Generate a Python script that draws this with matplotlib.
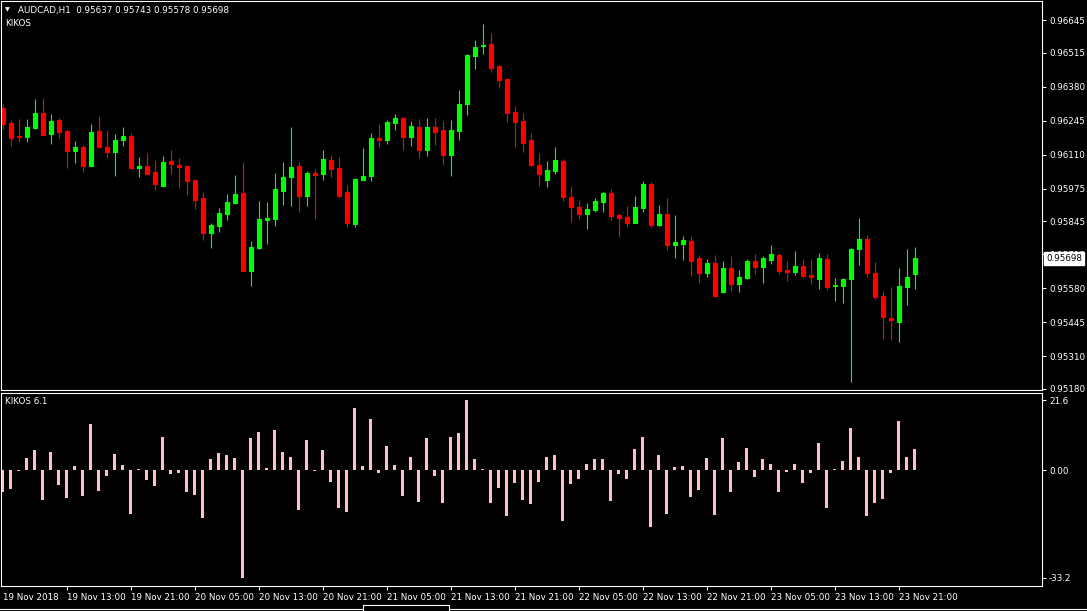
import matplotlib
matplotlib.use('Agg')
import matplotlib.pyplot as plt
from matplotlib.lines import Line2D
import numpy as np

# ---------------- data ----------------
opens = [0.96295, 0.96236, 0.96184, 0.96181, 0.96217, 0.96276, 0.96193, 0.96248, 0.96204, 0.96126,
         0.96140, 0.96066, 0.96204, 0.96140, 0.96122, 0.96169, 0.96184, 0.96058, 0.96065, 0.96041,
         0.95987, 0.96085, 0.96069, 0.96065, 0.96009, 0.95938, 0.95800, 0.95828, 0.95875, 0.95918,
         0.95958, 0.95648, 0.95739, 0.95852, 0.95855, 0.95967, 0.96022, 0.96065, 0.95947, 0.96037,
         0.96034, 0.96089, 0.96057, 0.95962, 0.95836, 0.96010, 0.96026, 0.96176, 0.96169, 0.96237,
         0.96256, 0.96181, 0.96220, 0.96130, 0.96220, 0.96208, 0.96110, 0.96205, 0.96312, 0.96503,
         0.96542, 0.96550, 0.96463, 0.96411, 0.96280, 0.96244, 0.96168, 0.96069, 0.96010, 0.96046,
         0.96085, 0.95943, 0.95903, 0.95874, 0.95890, 0.95922, 0.95958, 0.95870, 0.95862, 0.95839,
         0.95898, 0.95994, 0.95831, 0.95874, 0.95751, 0.95755, 0.95767, 0.95699, 0.95640, 0.95680,
         0.95564, 0.95660, 0.95596, 0.95620, 0.95687, 0.95665, 0.95691, 0.95711, 0.95652, 0.95645,
         0.95668, 0.95632, 0.95616, 0.95695, 0.95588, 0.95588, 0.95616, 0.95735, 0.95775, 0.95640,
         0.95548, 0.95461, 0.95445, 0.95584, 0.95637]
highs = [0.96311, 0.96248, 0.96252, 0.96252, 0.96331, 0.96335, 0.96272, 0.96256, 0.96208, 0.96164,
         0.96148, 0.96232, 0.96264, 0.96208, 0.96192, 0.96220, 0.96196, 0.96101, 0.96117, 0.96090,
         0.96106, 0.96129, 0.96097, 0.96066, 0.96010, 0.95962, 0.95839, 0.95898, 0.95954, 0.96030,
         0.96081, 0.95767, 0.95926, 0.95922, 0.96038, 0.96081, 0.96220, 0.96081, 0.96045, 0.96053,
         0.96129, 0.96109, 0.96101, 0.95990, 0.96017, 0.96137, 0.96196, 0.96232, 0.96248, 0.96272,
         0.96260, 0.96244, 0.96252, 0.96256, 0.96256, 0.96244, 0.96248, 0.96367, 0.96510, 0.96566,
         0.96629, 0.96593, 0.96467, 0.96415, 0.96303, 0.96276, 0.96196, 0.96117, 0.96085, 0.96140,
         0.96093, 0.95985, 0.95930, 0.95918, 0.95938, 0.95962, 0.95974, 0.95878, 0.95906, 0.95946,
         0.96005, 0.96001, 0.95910, 0.95938, 0.95870, 0.95787, 0.95787, 0.95711, 0.95695, 0.95711,
         0.95687, 0.95707, 0.95652, 0.95695, 0.95715, 0.95707, 0.95751, 0.95719, 0.95687, 0.95727,
         0.95695, 0.95695, 0.95719, 0.95715, 0.95620, 0.95620, 0.95739, 0.95858, 0.95791, 0.95684,
         0.95568, 0.95584, 0.95660, 0.95735, 0.95743]
lows = [0.96212, 0.96146, 0.96162, 0.96162, 0.96212, 0.96187, 0.96154, 0.96177, 0.96058, 0.96078,
        0.96042, 0.96064, 0.96137, 0.96098, 0.96025, 0.96146, 0.96054, 0.96022, 0.96032, 0.95970,
        0.95985, 0.96034, 0.95977, 0.95951, 0.95893, 0.95772, 0.95740, 0.95804, 0.95851, 0.95915,
        0.95647, 0.95589, 0.95735, 0.95756, 0.95828, 0.95911, 0.95907, 0.95884, 0.95907, 0.95855,
        0.96010, 0.96022, 0.95945, 0.95824, 0.95824, 0.96008, 0.96006, 0.96141, 0.96154, 0.96209,
        0.96130, 0.96146, 0.96098, 0.96106, 0.96150, 0.96070, 0.96025, 0.96169, 0.96269, 0.96452,
        0.96511, 0.96440, 0.96376, 0.96241, 0.96141, 0.96122, 0.96066, 0.95987, 0.95981, 0.96034,
        0.95927, 0.95844, 0.95855, 0.95816, 0.95882, 0.95882, 0.95850, 0.95783, 0.95823, 0.95837,
        0.95882, 0.95823, 0.95827, 0.95731, 0.95699, 0.95691, 0.95628, 0.95600, 0.95624, 0.95546,
        0.95562, 0.95568, 0.95564, 0.95616, 0.95636, 0.95600, 0.95676, 0.95637, 0.95608, 0.95632,
        0.95626, 0.95596, 0.95576, 0.95572, 0.95528, 0.95520, 0.95207, 0.95672, 0.95624, 0.95536,
        0.95378, 0.95374, 0.95366, 0.95513, 0.95578]
closes = [0.96233, 0.96177, 0.96180, 0.96220, 0.96276, 0.96189, 0.96244, 0.96201, 0.96126, 0.96140,
          0.96066, 0.96200, 0.96141, 0.96122, 0.96168, 0.96184, 0.96058, 0.96065, 0.96034, 0.95995,
          0.96081, 0.96074, 0.96062, 0.96006, 0.95931, 0.95800, 0.95831, 0.95878, 0.95922, 0.95954,
          0.95648, 0.95743, 0.95854, 0.95858, 0.95974, 0.96021, 0.96060, 0.95947, 0.96037, 0.96030,
          0.96093, 0.96054, 0.95947, 0.95840, 0.96013, 0.96025, 0.96176, 0.96169, 0.96240, 0.96256,
          0.96181, 0.96224, 0.96130, 0.96220, 0.96201, 0.96110, 0.96208, 0.96311, 0.96506, 0.96538,
          0.96546, 0.96455, 0.96408, 0.96277, 0.96241, 0.96158, 0.96070, 0.96034, 0.96048, 0.96089,
          0.95943, 0.95903, 0.95874, 0.95894, 0.95926, 0.95958, 0.95866, 0.95858, 0.95839, 0.95902,
          0.95994, 0.95831, 0.95874, 0.95751, 0.95763, 0.95771, 0.95688, 0.95640, 0.95680, 0.95548,
          0.95660, 0.95596, 0.95624, 0.95687, 0.95665, 0.95699, 0.95715, 0.95649, 0.95645, 0.95668,
          0.95628, 0.95625, 0.95699, 0.95584, 0.95592, 0.95615, 0.95735, 0.95775, 0.95640, 0.95544,
          0.95465, 0.95453, 0.95588, 0.95624, 0.95698]
kikos = [-6.7, -5.9, -0.3, 3.8, 6.3, -9.3, 5.6, -4.6, -8.7, 1.2,
         -8.0, 14.2, -6.5, -1.9, 4.9, 1.5, -13.6, 0.3, -3.1, -4.9,
         10.2, -1.2, -0.9, -6.8, -7.7, -14.8, 3.4, 5.3, 4.6, 3.8,
         -33.2, 9.9, 11.8, 0.6, 12.4, 5.6, 4.0, -12.4, 9.3, -0.3,
         6.2, -3.7, -11.8, -13.0, 19.2, 1.2, 15.8, -0.9, 7.4, 1.5,
         -8.0, 4.0, -9.9, 9.9, -1.9, -10.2, 10.2, 11.4, 21.6, 3.4,
         0.3, -10.2, -5.6, -14.2, -4.0, -9.3, -10.5, -3.7, 4.0, 4.6,
         -15.8, -4.3, -2.8, 1.9, 3.4, 3.4, -9.6, -1.2, -2.8, 6.5,
         10.2, -17.6, 4.6, -13.6, 0.9, 1.2, -8.4, -6.2, 3.7, -13.9,
         9.9, -6.8, 2.5, 6.8, -2.2, 3.4, 1.9, -6.8, -0.6, 1.9,
         -4.0, -0.9, 8.4, -11.8, 0.3, 2.8, 13.0, 4.0, -14.2, -10.2,
         -9.0, -0.9, 15.2, 4.0, 6.5]
time_labels = ["19 Nov 2018", "19 Nov 13:00", "19 Nov 21:00", "20 Nov 05:00", "20 Nov 13:00",
               "20 Nov 21:00", "21 Nov 05:00", "21 Nov 13:00", "21 Nov 21:00", "22 Nov 05:00",
               "22 Nov 13:00", "22 Nov 21:00", "23 Nov 05:00", "23 Nov 13:00", "23 Nov 21:00"]
time_label_bars = [0, 8, 16, 24, 32, 40, 48, 56, 64, 72, 80, 88, 96, 104, 112]
price_ticks = [0.96645, 0.96515, 0.96380, 0.96245, 0.96110, 0.95975, 0.95845, 0.95715,
               0.95580, 0.95445, 0.95310, 0.95180]
kikos_ticks = [21.6, 0.0, -33.2]
kikos_tick_labels = ["21.6", "0.00", "-33.2"]
symbol = "AUDCAD,H1"
last_price = 0.95698

# ---------------- figure ----------------
W, H = 1087, 611
fig = plt.figure(figsize=(W / 100, H / 100), dpi=100, facecolor='black')
FS = 6.3
WHITE = 'white'


def box(x0, y0, x1, y1):
    return [x0 / W, 1 - y1 / H, (x1 - x0) / W, (y1 - y0) / H]


ax = fig.add_axes(box(1, 1, 1042, 390))
ax2 = fig.add_axes(box(1, 393, 1042, 586))

o = np.array(opens)
h = np.array(highs)
l = np.array(lows)
c = np.array(closes)
x = np.arange(len(o))
cols = np.where(c >= o, '#00FF00', '#FF0000')

for a in (ax, ax2):
    a.set_facecolor('black')
    for s in a.spines.values():
        s.set_color(WHITE)
        s.set_linewidth(0.8)
    a.set_xlim(-0.2125, 129.91)

# candles
ax.vlines(x, l, h, colors=cols, linewidth=0.8)
ax.bar(x, np.abs(c - o), bottom=np.minimum(o, c), width=0.5, color=cols,
       edgecolor=cols, linewidth=0.8)
ax.set_ylim(0.95175, 0.967205)
ax.yaxis.tick_right()
ax.set_yticks(price_ticks)
ax.set_yticklabels([f"{p:.5f}" for p in price_ticks])
ax.tick_params(axis='y', colors=WHITE, labelsize=FS, length=3, width=0.8, pad=2)
ax.set_xticks([])

ax.annotate(f"{last_price:.5f}", xy=(1, last_price), xycoords=('axes fraction', 'data'),
            xytext=(3.0, 0), textcoords='offset points', ha='left', va='center',
            color='black', fontsize=FS, zorder=10, annotation_clip=False,
            bbox=dict(boxstyle='square,pad=0.25', fc='white', ec='white'))

# indicator
ax2.bar(x, kikos, width=0.375, color='#FFC0CB', linewidth=0)
ax2.set_ylim(-35.8, 23.8)
ax2.yaxis.tick_right()
ax2.set_yticks(kikos_ticks)
ax2.set_yticklabels(kikos_tick_labels)
ax2.tick_params(axis='y', colors=WHITE, labelsize=FS, length=3, width=0.8, pad=2)
ax2.set_xticks(time_label_bars)
ax2.set_xticklabels(time_labels, ha='left')
ax2.tick_params(axis='x', colors=WHITE, labelsize=FS, length=3, width=0.8, pad=2)
ax2.xaxis.get_major_ticks()[0].tick1line.set_visible(False)

# header texts
fig.text(5 / W, 1 - 10 / H, "\u25BC", color=WHITE, fontsize=4.5, va='center', ha='left')
fig.text(18 / W, 1 - 10 / H, f"{symbol}  {opens[-1]:.5f} {highs[-1]:.5f} {lows[-1]:.5f} {closes[-1]:.5f}",
         color=WHITE, fontsize=FS, va='center', ha='left')
fig.text(5 / W, 1 - 23 / H, "KIKOS", color=WHITE, fontsize=FS, va='center', ha='left')
fig.text(5 / W, 1 - 402 / H, "KIKOS 6.1", color=WHITE, fontsize=FS, va='center', ha='left')

# bottom tab strip of the terminal window
def fline(xs, ys, **kw):
    fig.add_artist(Line2D([v / W for v in xs], [1 - v / H for v in ys],
                          transform=fig.transFigure, color=WHITE, linewidth=0.8, **kw))

fline([0, 363], [608.5, 608.5])
fline([449, 1087], [608.5, 608.5])
fline([363, 363, 449, 449], [611, 605, 605, 611])

fig.savefig('out.png', dpi=100, facecolor='black')
